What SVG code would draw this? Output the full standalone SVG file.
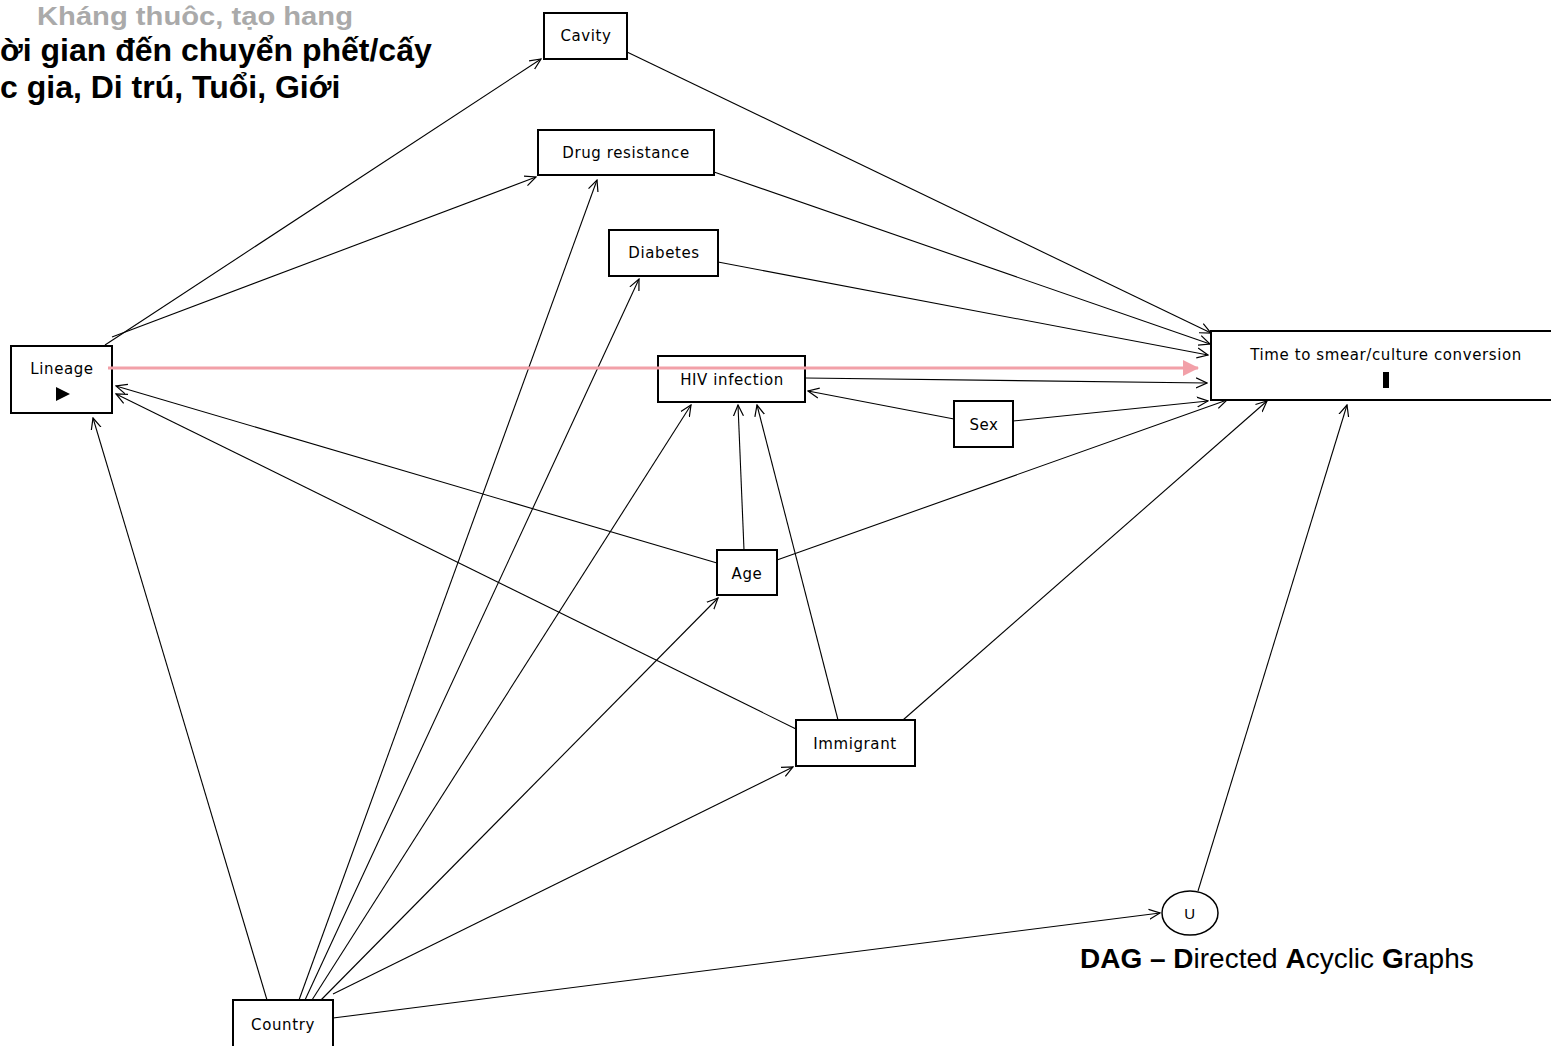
<svg xmlns="http://www.w3.org/2000/svg" width="1551" height="1046" viewBox="0 0 1551 1046">
<defs>
<marker id="arr" viewBox="0 0 12 12" refX="11" refY="6" markerWidth="12" markerHeight="12" markerUnits="userSpaceOnUse" orient="auto">
<path d="M0,1 L11,6 L0,11" fill="none" stroke="#000" stroke-width="1.2"/>
</marker>
<marker id="pink" viewBox="0 0 16 16" refX="15" refY="8" markerWidth="16" markerHeight="16" markerUnits="userSpaceOnUse" orient="auto">
<path d="M0,0 L16,8 L0,16 Z" fill="#f2a0a8"/>
</marker>
</defs>
<style>
.box{fill:#fff;stroke:#000;stroke-width:2}
.lbl{font-family:"DejaVu Sans",Verdana,sans-serif;font-size:15px;letter-spacing:0.6px;text-anchor:middle;fill:#000}
.e{stroke:#000;stroke-width:1.1;fill:none;marker-end:url(#arr)}
.title{font-family:"Liberation Sans",Arial,sans-serif;font-weight:bold;font-size:32px}
</style>
<rect width="1551" height="1046" fill="#fff"/>
<g id="connectors">
<line class="e" x1="105" y1="345" x2="541" y2="59"/>
<line class="e" x1="112" y1="337" x2="536" y2="177"/>
<line class="e" x1="627" y1="52" x2="1211" y2="333"/>
<line class="e" x1="714" y1="172" x2="1210" y2="344"/>
<line class="e" x1="718" y1="262" x2="1208" y2="355"/>
<line class="e" x1="805" y1="378" x2="1207" y2="383"/>
<line class="e" x1="954" y1="419" x2="808" y2="391"/>
<line class="e" x1="1013" y1="421" x2="1208" y2="401"/>
<line class="e" x1="777" y1="560" x2="1227" y2="400"/>
<line class="e" x1="903" y1="720" x2="1267" y2="401"/>
<line class="e" x1="1198" y1="891" x2="1347" y2="405"/>
<line class="e" x1="744" y1="550" x2="738" y2="405"/>
<line class="e" x1="838" y1="720" x2="757" y2="405"/>
<line class="e" x1="717" y1="563" x2="116" y2="386"/>
<line class="e" x1="796" y1="729" x2="116" y2="394"/>
<line class="e" x1="267" y1="1000" x2="93" y2="418"/>
<line class="e" x1="299" y1="1000" x2="597" y2="180"/>
<line class="e" x1="305" y1="1000" x2="639" y2="279"/>
<line class="e" x1="312" y1="1000" x2="691" y2="405"/>
<line class="e" x1="321" y1="1000" x2="718" y2="598"/>
<line class="e" x1="333" y1="994" x2="793" y2="767"/>
<line class="e" x1="333" y1="1018" x2="1160" y2="913"/>
</g>
<g id="node-cavity"><rect class="box" x="544" y="13" width="83" height="46"/><text class="lbl" x="586" y="41">Cavity</text></g>
<g id="node-drug"><rect class="box" x="538" y="130" width="176" height="45"/><text class="lbl" x="626" y="158">Drug resistance</text></g>
<g id="node-diabetes"><rect class="box" x="609" y="230" width="109" height="46"/><text class="lbl" x="664" y="258">Diabetes</text></g>
<g id="node-lineage"><rect class="box" x="11" y="346" width="101" height="67"/><text class="lbl" x="62" y="374">Lineage</text><path d="M56,387 L70,394 L56,401 Z" fill="#000"/></g>
<g id="node-hiv"><rect class="box" x="658" y="356" width="147" height="46"/><text class="lbl" x="732" y="385">HIV infection</text></g>
<g id="node-time"><rect class="box" x="1211" y="331" width="345" height="69"/><text class="lbl" x="1386" y="360">Time to smear/culture conversion</text><rect x="1383" y="372" width="6" height="16" fill="#000"/></g>
<g id="node-sex"><rect class="box" x="954" y="401" width="59" height="46"/><text class="lbl" x="984" y="430">Sex</text></g>
<g id="node-age"><rect class="box" x="717" y="550" width="60" height="45"/><text class="lbl" x="747" y="579">Age</text></g>
<g id="node-immigrant"><rect class="box" x="796" y="720" width="119" height="46"/><text class="lbl" x="855" y="749">Immigrant</text></g>
<g id="node-u"><ellipse cx="1190" cy="913" rx="28" ry="22" fill="#fff" stroke="#000" stroke-width="1.5"/><text class="lbl" x="1190" y="919" style="font-family:'Liberation Sans',Arial,sans-serif">U</text></g>
<g id="node-country"><rect class="box" x="233" y="1000" width="100" height="48"/><text class="lbl" x="283" y="1030">Country</text></g>
<g id="pink-edge"><line x1="108" y1="368" x2="1198" y2="368" stroke="#f2a0a8" stroke-width="3" marker-end="url(#pink)"/></g>
<text class="title" x="37" y="25" fill="#aaaaaa" style="font-size:25px" textLength="316" lengthAdjust="spacingAndGlyphs">Kháng thuôc, tạo hang</text>
<text class="title" x="0" y="61" fill="#000">ời gian đến chuyển phết/cấy</text>
<text class="title" x="0" y="98" fill="#000">c gia, Di trú, Tuổi, Giới</text>
<text x="1080" y="968" style="font-family:'Liberation Sans',Arial,sans-serif;font-size:28px" fill="#000"><tspan font-weight="bold">DAG – D</tspan>irected <tspan font-weight="bold">A</tspan>cyclic <tspan font-weight="bold">G</tspan>raphs</text>
</svg>
